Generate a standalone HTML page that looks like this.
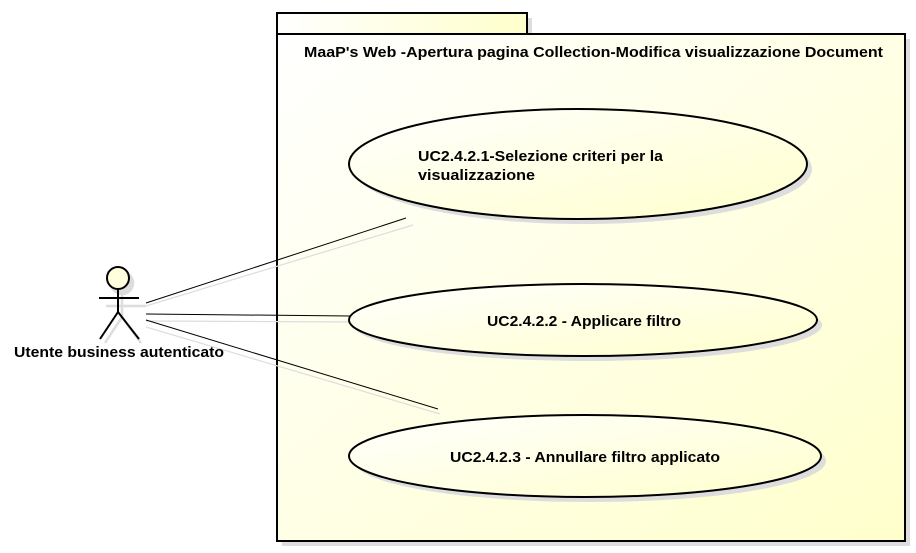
<!DOCTYPE html>
<html><head><meta charset="utf-8"><style>
html,body{margin:0;padding:0;background:#fff;width:916px;height:553px;overflow:hidden}
text{font-family:"Liberation Sans",Arial,sans-serif;font-weight:bold;font-size:15px;fill:#000}
</style></head><body>
<svg width="916" height="553" viewBox="0 0 916 553" xmlns="http://www.w3.org/2000/svg">
<defs>
<linearGradient id="g" x1="0" y1="0" x2="1" y2="1">
<stop offset="0" stop-color="#ffffff"/><stop offset="1" stop-color="#ffffcc"/></linearGradient>
<linearGradient id="g2" x1="0" y1="0" x2="1" y2="0">
<stop offset="0" stop-color="#ffffff"/><stop offset="1" stop-color="#ffffcc"/></linearGradient>
</defs>
<rect x="282" y="18" width="250" height="21" fill="#ddd"/>
<rect x="282" y="39" width="628" height="507" fill="#ddd"/>
<rect x="277" y="13" width="250" height="21" fill="url(#g2)" stroke="#000" stroke-width="2"/>
<rect x="277" y="34" width="628" height="507" fill="url(#g)" stroke="#000" stroke-width="2"/>
<text x="304" y="57" textLength="579" lengthAdjust="spacingAndGlyphs">MaaP's Web -Apertura pagina Collection-Modifica visualizzazione Document</text>
<g stroke="#ddd" stroke-width="1.2">
<line x1="146" y1="306" x2="413" y2="225"/>
<line x1="146" y1="321" x2="360" y2="322"/>
<line x1="146" y1="327" x2="440" y2="414"/>
</g>
<g stroke="#000" stroke-width="1">
<line x1="146" y1="303" x2="406" y2="218"/>
<line x1="146" y1="314" x2="350" y2="316"/>
<line x1="146" y1="320" x2="438" y2="409"/>
</g>
<g fill="#ddd">
<ellipse cx="583" cy="169" rx="229" ry="55"/>
<ellipse cx="588" cy="325" rx="234" ry="36"/>
<ellipse cx="590" cy="461" rx="236" ry="41"/>
</g>
<g fill="url(#g)" stroke="#000" stroke-width="2">
<ellipse cx="578" cy="164" rx="229" ry="55"/>
<ellipse cx="583" cy="320" rx="234" ry="36"/>
<ellipse cx="585" cy="456" rx="236" ry="41"/>
</g>
<text x="418" y="161" textLength="245" lengthAdjust="spacingAndGlyphs">UC2.4.2.1-Selezione criteri per la</text>
<text x="418" y="180" textLength="117" lengthAdjust="spacingAndGlyphs">visualizzazione</text>
<text x="487" y="326" textLength="194" lengthAdjust="spacingAndGlyphs">UC2.4.2.2 - Applicare filtro</text>
<text x="450" y="462" textLength="270" lengthAdjust="spacingAndGlyphs">UC2.4.2.3 - Annullare filtro applicato</text>
<g stroke="#ddd" stroke-width="2.5" fill="none">
<circle cx="122" cy="283" r="11" fill="#ddd"/>
<line x1="106" y1="306" x2="146" y2="306"/>
<line x1="122" y1="294" x2="122" y2="317"/>
<line x1="122" y1="317" x2="105" y2="343"/>
<line x1="122" y1="317" x2="141" y2="343"/>
</g>
<g stroke="#000" stroke-width="2" fill="none">
<circle cx="118" cy="278" r="11" fill="#ffffdd"/>
<line x1="99" y1="298" x2="139" y2="298"/>
<line x1="118" y1="289" x2="118" y2="312"/>
<line x1="118" y1="312" x2="100" y2="339"/>
<line x1="118" y1="312" x2="139" y2="339"/>
</g>
<text x="14" y="357" textLength="210" lengthAdjust="spacingAndGlyphs">Utente business autenticato</text>
</svg>
</body></html>
